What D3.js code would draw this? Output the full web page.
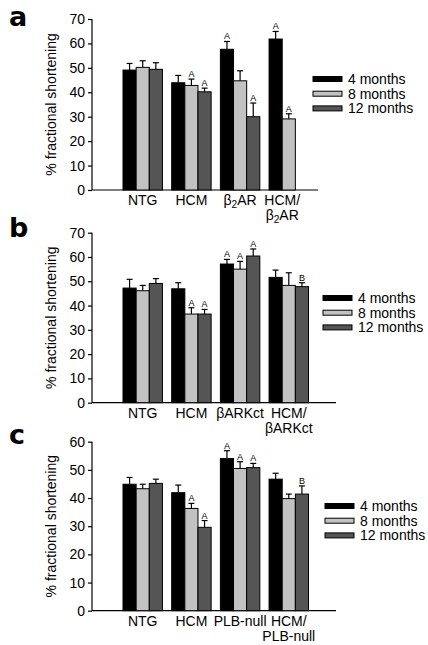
<!DOCTYPE html>
<html><head><meta charset="utf-8">
<script src="https://cdnjs.cloudflare.com/ajax/libs/d3/7.8.5/d3.min.js"></script>
<style>
html,body{margin:0;padding:0;background:#fff;}
svg{display:block;font-family:"Liberation Sans",Arial,Helvetica,sans-serif;}
</style></head>
<body>
<svg id="chart" width="428" height="645"></svg>
<script>
// ---------- DATA ----------
const months = ["4 months", "8 months", "12 months"];

const categoriesA = ["NTG", "HCM", "β{2}AR", "HCM/|β{2}AR"];
const valuesA4  = [49.1, 43.9, 57.6, 61.8];
const valuesA8  = [50.2, 42.8, 44.7, 29.1];
const valuesA12 = [49.4, 40.2, 30.0, null];
const errorsA4  = [2.7, 3.0, 3.2, 3.1];
const errorsA8  = [2.7, 2.6, 4.1, 2.1];
const errorsA12 = [2.7, 1.5, 5.6, null];
const signifA4  = ["", "", "A", "A"];
const signifA8  = ["", "A", "", "A"];
const signifA12 = ["", "A", "A", ""];

const categoriesB = ["NTG", "HCM", "βARKct", "HCM/|βARKct"];
const valuesB4  = [47.2, 46.9, 57.1, 51.6];
const valuesB8  = [46.1, 36.5, 55.0, 48.3];
const valuesB12 = [49.1, 36.5, 60.4, 47.8];
const errorsB4  = [3.6, 2.5, 1.9, 3.0];
const errorsB8  = [2.2, 2.6, 3.2, 5.2];
const errorsB12 = [2.0, 1.9, 2.9, 1.6];
const signifB4  = ["", "", "A", ""];
const signifB8  = ["", "A", "A", ""];
const signifB12 = ["", "A", "A", "B"];

const categoriesC = ["NTG", "HCM", "PLB-null", "HCM/|PLB-null"];
const valuesC4  = [44.9, 41.9, 54.0, 46.7];
const valuesC8  = [43.3, 36.3, 50.5, 39.8];
const valuesC12 = [45.2, 29.6, 50.8, 41.4];
const errorsC4  = [2.4, 2.7, 2.8, 2.1];
const errorsC8  = [1.6, 1.8, 2.4, 1.6];
const errorsC12 = [1.5, 2.4, 1.5, 2.9];
const signifC4  = ["", "", "A", ""];
const signifC8  = ["", "A", "A", ""];
const signifC12 = ["", "A", "A", "B"];

const ticksAB = [0, 10, 20, 30, 40, 50, 60, 70];
const ticksC  = [0, 10, 20, 30, 40, 50, 60];
const yLabel = "% fractional shortening";
const panelLetters = ["a", "b", "c"];

// ---------- LAYOUT / STYLE ----------
const colors = ["#000000", "#c2c2c2", "#555555"];
const FONT = 14;
const svg = d3.select("#chart");

const panels = [
  {letter: panelLetters[0], cats: categoriesA, vals: [valuesA4, valuesA8, valuesA12],
   errs: [errorsA4, errorsA8, errorsA12], sig: [signifA4, signifA8, signifA12], ticks: ticksAB,
   yTop: 19, yBot: 190, axisEnd: 318, legX: 313, legY: 79, letterY: 26},
  {letter: panelLetters[1], cats: categoriesB, vals: [valuesB4, valuesB8, valuesB12],
   errs: [errorsB4, errorsB8, errorsB12], sig: [signifB4, signifB8, signifB12], ticks: ticksAB,
   yTop: 232.7, yBot: 402.7, axisEnd: 336, legX: 323, legY: 298, letterY: 237},
  {letter: panelLetters[2], cats: categoriesC, vals: [valuesC4, valuesC8, valuesC12],
   errs: [errorsC4, errorsC8, errorsC12], sig: [signifC4, signifC8, signifC12], ticks: ticksC,
   yTop: 441.7, yBot: 610.7, axisEnd: 336, legX: 325, legY: 506, letterY: 444}
];

const axisX = 92;

function richText(sel, str) {
  const parts = str.split(/(\{[^}]*\})/).filter(s => s.length);
  parts.forEach(p => {
    if (p.startsWith("{")) {
      sel.append("tspan").attr("baseline-shift", "-28%").attr("font-size", FONT * 0.72).text(p.slice(1, -1));
    } else {
      sel.append("tspan").text(p);
    }
  });
}

panels.forEach(P => {
  const g = svg.append("g");
  const maxV = P.ticks[P.ticks.length - 1];
  const y = d3.scaleLinear().domain([0, maxV]).range([P.yBot, P.yTop]);
  const x = d3.scaleBand().domain(P.cats).range([123, 308.5]).paddingInner(0.19).paddingOuter(0);
  const xm = d3.scaleBand().domain(months).range([0, x.bandwidth()]).padding(0);

  const yAxis = d3.axisLeft(y).tickValues(P.ticks).tickSize(4).tickPadding(3).tickFormat(d3.format("d"));
  const ya = g.append("g").attr("transform", `translate(${axisX},0)`).call(yAxis);
  ya.select(".domain").attr("d", `M0,${P.yTop}V${P.yBot}`).attr("stroke", "#000").attr("stroke-width", 1.2);
  ya.selectAll(".tick line").attr("stroke", "#000").attr("stroke-width", 1.2);
  ya.selectAll(".tick text").attr("font-size", FONT).attr("fill", "#000")
    .attr("font-family", '"Liberation Sans",Arial,sans-serif');

  g.append("line").attr("x1", axisX).attr("x2", P.axisEnd).attr("y1", P.yBot).attr("y2", P.yBot)
    .attr("stroke", "#000").attr("stroke-width", 1.2);

  g.append("text").attr("transform", `translate(56,${(P.yTop + P.yBot) / 2}) rotate(-90)`)
    .attr("text-anchor", "middle").attr("font-size", FONT).text(yLabel);

  g.append("text").attr("x", 9).attr("y", P.letterY).attr("font-size", 27).attr("font-weight", "bold")
    .attr("font-family", '"DejaVu Sans",Arial,sans-serif').text(P.letter);

  const rows = [];
  P.cats.forEach((c, i) => months.forEach((m, k) => {
    if (P.vals[k][i] !== null) rows.push({c, m, k, v: P.vals[k][i], e: P.errs[k][i], s: P.sig[k][i]});
  }));
  const bw = xm.bandwidth();
  const bars = g.append("g");
  rows.forEach(r => {
    const x0 = x(r.c) + xm(r.m);
    const cx = x0 + bw / 2;
    const top = y(r.v + r.e);
    bars.append("line").attr("x1", cx).attr("x2", cx).attr("y1", y(r.v)).attr("y2", top)
      .attr("stroke", "#000").attr("stroke-width", 1.2);
    bars.append("line").attr("x1", cx - 3).attr("x2", cx + 3).attr("y1", top).attr("y2", top)
      .attr("stroke", "#000").attr("stroke-width", 1.2);
    bars.append("rect").attr("x", x0).attr("y", y(r.v)).attr("width", bw).attr("height", P.yBot - y(r.v))
      .attr("fill", colors[r.k]).attr("stroke", "#000").attr("stroke-width", 1);
    if (r.s) {
      bars.append("text").attr("x", cx).attr("y", top - 2).attr("text-anchor", "middle")
        .attr("font-size", 9).text(r.s);
    }
  });

  P.cats.forEach((c, i) => {
    const present = months.filter((m, k) => P.vals[k][i] !== null);
    const cx = x(c) + (xm(present[0]) + xm(present[present.length - 1]) + bw) / 2;
    const lines = c.split("|");
    lines.forEach((ln, j) => {
      const t = g.append("text").attr("x", cx).attr("y", P.yBot + 15 + j * 15)
        .attr("text-anchor", "middle").attr("font-size", FONT);
      richText(t, ln);
    });
  });

  months.forEach((m, k) => {
    const ly = P.legY + k * 14.7;
    g.append("rect").attr("x", P.legX).attr("y", ly - 2.5).attr("width", 29).attr("height", 5)
      .attr("fill", colors[k]).attr("stroke", "#000").attr("stroke-width", 1);
    g.append("text").attr("x", P.legX + 35).attr("y", ly + 5).attr("font-size", FONT).text(m);
  });
});
</script>
</body></html>
